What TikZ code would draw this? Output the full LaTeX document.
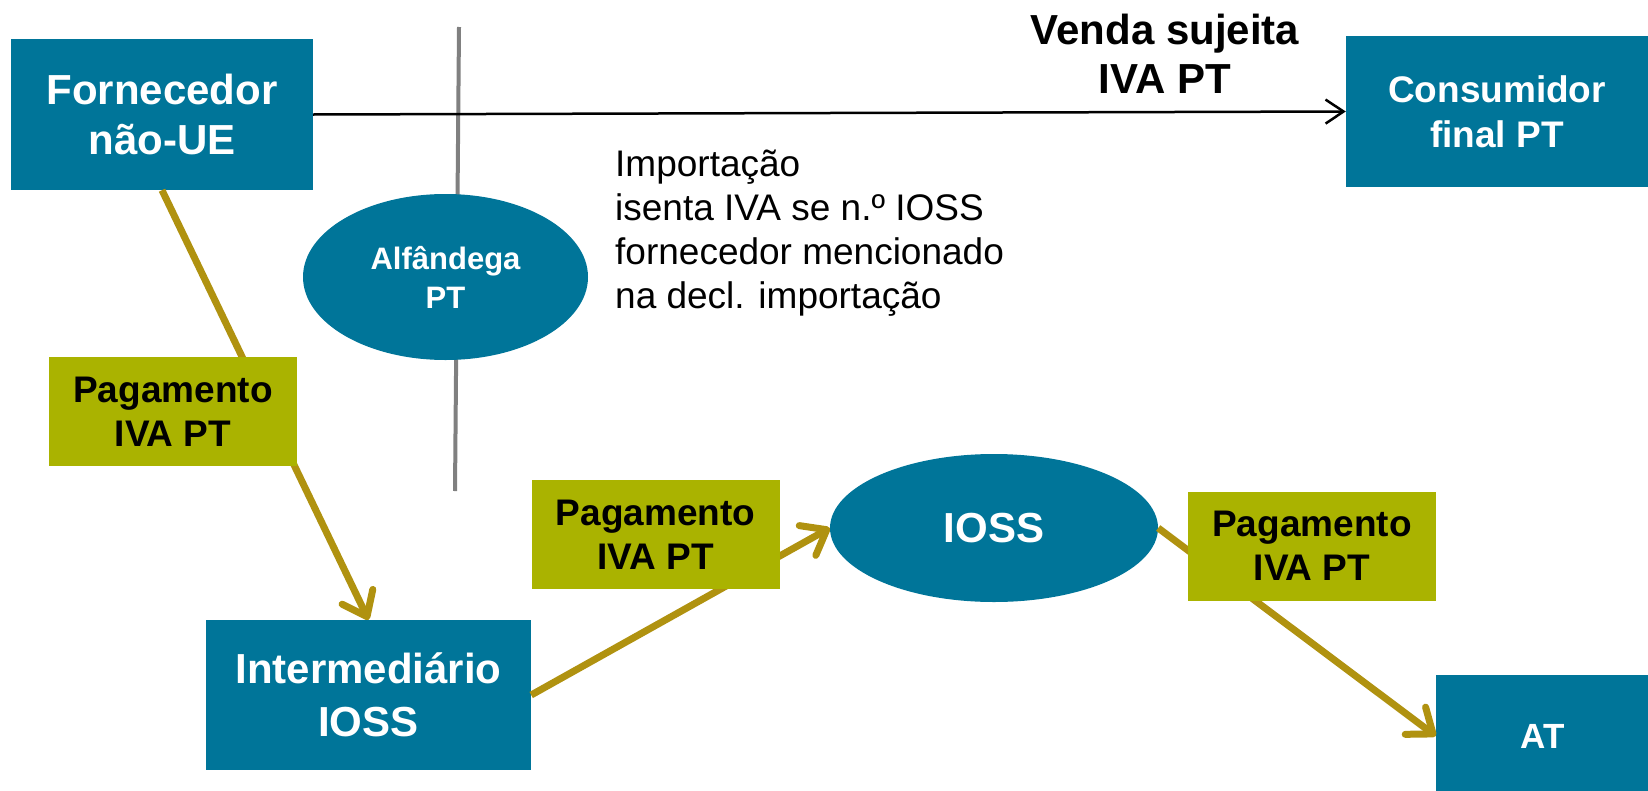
\documentclass[tikz,border=0pt]{standalone}
\usepackage{fontspec}
\setmainfont{Liberation Sans}
\usetikzlibrary{shapes.geometric,arrows.meta}
\definecolor{boxblue}{RGB}{0,117,153}
\definecolor{payolive}{RGB}{170,179,0}
\definecolor{flowgold}{RGB}{176,146,16}
\definecolor{bordergray}{RGB}{128,128,128}

\begin{document}
\begin{tikzpicture}[x=1pt,y=-1pt,
    party/.style={fill=boxblue,text=white,align=center,inner sep=0pt,
      minimum width=302pt,minimum height=151pt},
    agency/.style={fill=boxblue,text=white,align=center,inner sep=0pt,ellipse},
    payment/.style={fill=payolive,align=center,inner sep=0pt,
      minimum width=248pt,minimum height=109pt,
      font=\bfseries\fontsize{37}{44}\selectfont},
    flow/.style={draw=flowgold,line width=7pt,
      -{Straight Barb[length=22pt,width=34pt,round]}}]
  \useasboundingbox (0,0) rectangle (1648,790);
  % border line
  \coordinate (top) at (459,27);
  \coordinate (bottom) at (455,491);
  \draw[bordergray,line width=4pt] (top) -- (bottom);

  \node[party,font=\bfseries\fontsize{42}{50}\selectfont] (forn) at (162,114.5) {Fornecedor\\não-UE};
  \node[party,font=\bfseries\fontsize{37}{45}\selectfont] (cons) at (1497,111.5) {Consumidor\\final PT};
  \node[party,minimum width=325pt,minimum height=150pt,
        font=\bfseries\fontsize{42}{53}\selectfont] (inter) at (368.5,695) {Intermediário\\IOSS};
  \node[party,minimum width=214pt,minimum height=122pt,
        font=\bfseries\fontsize{35}{42}\selectfont] (at) at (1543,736) {AT};
  \node[agency,minimum width=285pt,minimum height=166pt,
        font=\bfseries\fontsize{31}{39}\selectfont] (alf) at (445.5,277) {Alfândega\\PT};
  \node[agency,minimum width=328pt,minimum height=148pt,
        font=\bfseries\fontsize{42}{50}\selectfont] (ioss) at (994,528) {IOSS};

  \node[font=\bfseries\fontsize{42}{49}\selectfont,align=center,inner sep=0pt] (sale) at (1165,54) {Venda sujeita\\IVA PT};
  \node[font=\fontsize{37}{44}\selectfont,align=left,anchor=west,inner sep=0pt] (note) at (615,233)
    {Importação\\isenta IVA se n.º IOSS\\fornecedor mencionado\\na decl. importação};

  \draw[line width=2.5pt,-{Straight Barb[length=18pt,width=24pt]}] (forn.east) -- (cons.west);
  \draw[flow] (forn.south) -- (inter.north);
  \draw[flow] (inter.east) -- (ioss.west);
  \draw[flow] (ioss.east) -- (at.west);

  \node[payment] (pay1) at (173,411.5) {Pagamento\\IVA PT};
  \node[payment] (pay2) at (655.5,534.5) {Pagamento\\IVA PT};
  \node[payment] (pay3) at (1312,546) {Pagamento\\IVA PT};
\end{tikzpicture}
\end{document}
